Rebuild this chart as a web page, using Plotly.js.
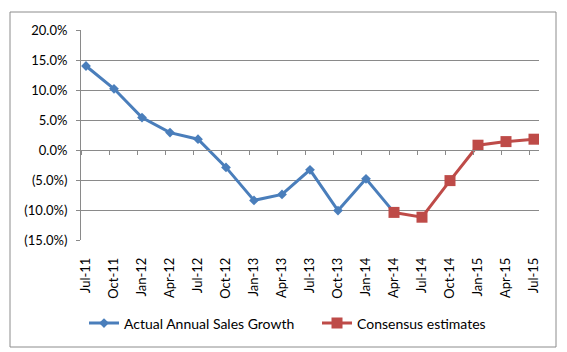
<!DOCTYPE html>
<html>
<head>
<meta charset="utf-8">
<script src="https://cdn.plot.ly/plotly-3.0.1.min.js"></script>
<style>html,body{margin:0;padding:0;background:#fff}#chart{width:567px;height:352px}</style>
</head>
<body>
<div id="chart"></div>
<script>
const categories = ["Jul-11","Oct-11","Jan-12","Apr-12","Jul-12","Oct-12","Jan-13","Apr-13","Jul-13","Oct-13","Jan-14","Apr-14","Jul-14","Oct-14","Jan-15","Apr-15","Jul-15"];
const actualCategories = categories.slice(0, 12);
const actualGrowth = [14.0, 10.2, 5.4, 2.9, 1.8, -2.9, -8.4, -7.4, -3.3, -10.1, -4.8, -10.4];
const estimateCategories = categories.slice(11);
const consensusEstimates = [-10.4, -11.2, -5.1, 0.8, 1.4, 1.8];
const yTickValues = [-15, -10, -5, 0, 5, 10, 15, 20];
const yTickLabels = ["(15.0%)", "(10.0%)", "(5.0%)", "0.0%", "5.0%", "10.0%", "15.0%", "20.0%"];

const FONT = "Lato, 'Open Sans', sans-serif";
const grid = "#8a8a8a";
const half = 5 / 28;
const n = categories.length;
const zeroTicks = categories.map((c, i) => i - half);

const traces = [
  {
    x: actualCategories, y: actualGrowth, name: "Actual Annual Sales Growth",
    type: "scatter", mode: "lines+markers", legend: "legend",
    line: {color: "#4A7EBB", width: 3},
    marker: {symbol: "diamond", size: 7.5, color: "#4A7EBB"}
  },
  {
    x: estimateCategories, y: consensusEstimates, name: "Consensus estimates",
    type: "scatter", mode: "lines+markers", legend: "legend2",
    line: {color: "#BE4B48", width: 3},
    marker: {symbol: "square", size: 11, color: "#BE4B48"}
  },
  {
    x: [0], y: [0], xaxis: "x2", yaxis: "y", type: "scatter", mode: "markers",
    marker: {opacity: 0}, showlegend: false, hoverinfo: "skip"
  }
];

const legendBase = {
  orientation: "h", xanchor: "left", y: (240 - 323.5) / 210, yanchor: "middle",
  font: {family: FONT, size: 14, color: "#000"},
  bgcolor: "rgba(0,0,0,0)", itemwidth: 30, borderwidth: 0
};

const layout = {
  width: 567, height: 352,
  margin: {l: 81, r: 28, t: 30, b: 112, autoexpand: false},
  paper_bgcolor: "#fff", plot_bgcolor: "#fff",
  font: {family: FONT, size: 13, color: "#000"},
  showlegend: true,
  xaxis: {
    type: "category", categoryorder: "array", categoryarray: categories,
    range: [-half, n - 1 + half],
    tickvals: categories, ticktext: categories,
    tickangle: -90, ticks: "", showgrid: false, zeroline: false, showline: false,
    ticklabelstandoff: 14,
    tickfont: {family: FONT, size: 13, color: "#000"}
  },
  xaxis2: {
    overlaying: "x", anchor: "free", position: 15 / 35,
    type: "linear", range: [-half, n - 1 + half],
    tickvals: zeroTicks, showticklabels: false,
    ticks: "outside", ticklen: 4, tickcolor: grid, tickwidth: 1,
    showline: true, linecolor: grid, linewidth: 1,
    showgrid: false, zeroline: false
  },
  yaxis: {
    range: [-15, 20], tickvals: yTickValues, ticktext: yTickLabels,
    showgrid: true, gridcolor: grid, gridwidth: 1, zeroline: false,
    showline: true, linecolor: grid, linewidth: 1,
    ticks: "outside", ticklen: 4, tickcolor: grid,
    ticklabelstandoff: 6,
    tickfont: {family: FONT, size: 13, color: "#000"}
  },
  legend: Object.assign({}, legendBase, {x: (84 - 81) / 458}),
  legend2: Object.assign({}, legendBase, {x: (317 - 81) / 458}),
  shapes: [
    {type: "rect", xref: "paper", yref: "paper",
     x0: (10 - 81) / 458, x1: (556 - 81) / 458,
     y0: (240 - 347) / 210, y1: (240 - 12) / 210,
     line: {color: "#8c8c8c", width: 1}, fillcolor: "rgba(0,0,0,0)", layer: "below"}
  ]
};

Plotly.newPlot("chart", traces, layout, {staticPlot: true, displayModeBar: false});
</script>
</body>
</html>
